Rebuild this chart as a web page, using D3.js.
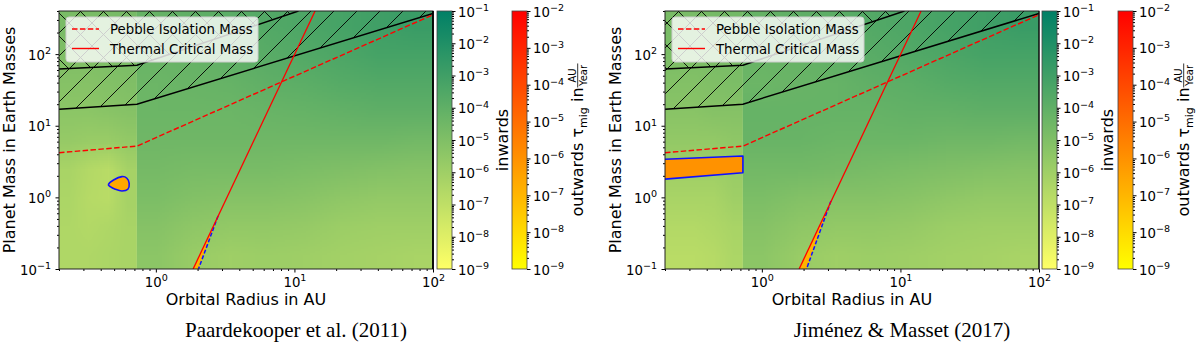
<!DOCTYPE html>
<html>
<head>
<meta charset="utf-8">
<script src="https://cdn.jsdelivr.net/npm/d3@7"></script>
<style>
body { margin: 0; background: #fff; }
svg { display: block; }
text { font-family: "DejaVu Sans", sans-serif; fill: #000; }
</style>
</head>
<body>
<svg id="chart" width="1200" height="347"></svg>
<script>
// curves shared by both panels (orbital radius in AU, planet mass in Earth masses)
const pebbleR = [0.2, 0.73, 100],  pebbleM = [4.2, 5.2, 355];
const thermalR = [1.857, 14.1],    thermalM = [0.1, 400];
const lowerGapR = [0.2, 0.73, 100], lowerGapM = [17, 20, 370];
const upperGapR = [0.2, 0.73, 10.7], upperGapM = [62, 70, 400];

// axis ticks
const radiusTicks = [1, 10, 100];
const massTicks = [0.1, 1, 10, 100];

// heat maps: log10 of inward tau_mig, rows from top (high mass) to bottom
const heatPaardInner = [
    [-4.8, -4.8, -4.8, -4.7],
    [-5.0, -5.0, -4.9, -4.8],
    [-5.2, -5.2, -5.1, -5.0],
    [-5.4, -5.4, -5.3, -5.2],
    [-5.7, -5.8, -5.8, -5.6],
    [-6.3, -6.6, -6.8, -6.2],
    [-6.4, -6.7, -6.8, -6.2],
    [-6.5, -6.6, -6.5, -6.3],
    [-6.5, -6.5, -6.4, -6.3]
];
const heatPaardOuter = [
    [-4.2, -4.0, -3.9, -3.6, -3.4, -3.2, -3.0, -2.8],
    [-4.3, -4.2, -4.0, -3.8, -3.6, -3.4, -3.2, -3.2],
    [-4.4, -4.3, -4.2, -4.0, -3.9, -3.7, -3.6, -3.6],
    [-4.4, -4.4, -4.4, -4.3, -4.2, -4.1, -4.0, -4.0],
    [-4.5, -4.5, -4.5, -4.5, -4.5, -4.5, -4.5, -4.6],
    [-4.7, -4.8, -4.8, -4.8, -4.9, -5.0, -5.1, -5.2],
    [-4.9, -5.1, -5.2, -5.2, -5.3, -5.5, -5.6, -5.6],
    [-5.2, -5.5, -5.6, -5.6, -5.7, -5.9, -6.0, -6.0],
    [-5.4, -5.8, -6.0, -5.9, -6.0, -6.1, -6.2, -6.3]
];
const heatJimInner = [
    [-4.8, -4.8, -4.7, -4.6],
    [-4.9, -4.9, -4.8, -4.8],
    [-5.1, -5.1, -5.0, -4.9],
    [-5.3, -5.3, -5.2, -5.2],
    [-5.6, -5.6, -5.6, -5.5],
    [-6.0, -6.0, -6.0, -5.8],
    [-6.3, -6.3, -6.3, -6.0],
    [-6.6, -6.6, -6.5, -6.3],
    [-6.8, -6.8, -6.7, -6.4]
];
const heatJimOuter = [
    [-4.2, -4.0, -3.9, -3.6, -3.4, -3.2, -3.0, -2.8],
    [-4.3, -4.2, -4.0, -3.8, -3.6, -3.4, -3.2, -3.2],
    [-4.4, -4.3, -4.2, -4.0, -3.9, -3.7, -3.6, -3.6],
    [-4.2, -4.2, -4.2, -4.2, -4.1, -4.1, -4.0, -4.0],
    [-4.3, -4.3, -4.4, -4.4, -4.4, -4.5, -4.5, -4.6],
    [-4.6, -4.6, -4.7, -4.8, -4.9, -5.0, -5.1, -5.2],
    [-4.9, -5.1, -5.2, -5.2, -5.3, -5.5, -5.6, -5.6],
    [-5.2, -5.5, -5.6, -5.6, -5.7, -5.9, -6.0, -6.0],
    [-5.4, -5.8, -6.0, -5.9, -6.0, -6.1, -6.2, -6.3]
];
const innerEdge = [0.2, 0.73], outerEdge = [0.73, 100];

// outward migration regions (log10 tau_mig)
const blobR = [0.455, 0.495, 0.569, 0.618, 0.642, 0.628, 0.569, 0.509, 0.469];
const blobM = [1.52, 1.75, 1.95, 1.85, 1.57, 1.30, 1.23, 1.30, 1.41];
const blobValue = -6.6;
const bandR = [0.2, 0.73, 0.73, 0.2], bandM = [3.4, 3.78, 2.21, 1.8];
const bandValue = -6.0;
const wedgePaardR = [1.857, 2.81, 2.03], wedgePaardM = [0.1, 0.55, 0.1];
const wedgeJimR = [1.85, 3.15, 2.10], wedgeJimM = [0.1, 0.89, 0.1];
const wedgeValue = -6.9;

const captions = ['Paardekooper et al. (2011)', 'Jiménez & Masset (2017)'];

const plotTop = 11, plotBottom = 269;
const panels = [
    {x0: 59, x1: 433, cb1: 437, cb2: 512, capX: 296, spine: 1.8,
     inner: heatPaardInner, outer: heatPaardOuter, wedgeR: wedgePaardR, wedgeM: wedgePaardM, blob: true},
    {x0: 665, x1: 1039, cb1: 1042, cb2: 1118, capX: 902, spine: 1,
     inner: heatJimInner, outer: heatJimOuter, wedgeR: wedgeJimR, wedgeM: wedgeJimM, blob: false}
];

const inColor = d3.scaleSequential(t => d3.rgb(255 * t, 127.5 * (1 + t), 102) + '')
    .domain([-1, -9]).clamp(true);
const outColor = d3.scaleSequential(t => d3.rgb(255, 255 * t, 0) + '')
    .domain([-2, -9]).clamp(true);

const svg = d3.select('#chart');
const defs = svg.append('defs');
const S = 23;
defs.append('pattern').attr('id', 'hatchF').attr('patternUnits', 'userSpaceOnUse')
    .attr('width', S).attr('height', S)
    .append('path')
    .attr('d', `M0,${S}L${S},0M-2,2L2,-2M${S - 2},${S + 2}L${S + 2},${S - 2}`)
    .attr('fill', 'none').attr('stroke', '#000').attr('stroke-width', 0.9);
defs.append('pattern').attr('id', 'hatchB').attr('patternUnits', 'userSpaceOnUse')
    .attr('width', S).attr('height', S)
    .append('path')
    .attr('d', `M0,0L${S},${S}M-2,${S - 2}L2,${S + 2}M${S - 2},-2L${S + 2},2`)
    .attr('fill', 'none').attr('stroke', '#000').attr('stroke-width', 0.9);

const fmtExp = n => n < 0 ? '\u2212' + (-n) : '' + n;
const isMajor = v => Math.abs(Math.log10(v) - Math.round(Math.log10(v))) < 1e-6;

function powLabels(sel, fs) {
    sel.each(function(d) {
        const t = d3.select(this).text(null);
        t.append('tspan').text('10');
        t.append('tspan').attr('dy', -fs * 0.42).attr('font-size', fs * 0.72)
            .text(fmtExp(Math.round(Math.log10(d))));
    });
}

function heatImage(g, grid, edge, x, y) {
    const canvas = document.createElement('canvas');
    canvas.width = grid[0].length;
    canvas.height = grid.length;
    const ctx = canvas.getContext('2d');
    grid.forEach((row, r) => row.forEach((v, c) => {
        ctx.fillStyle = inColor(v);
        ctx.fillRect(c, r, 1, 1);
    }));
    g.append('image')
        .attr('href', canvas.toDataURL())
        .attr('x', x(edge[0])).attr('y', y(400))
        .attr('width', x(edge[1]) - x(edge[0]))
        .attr('height', y(0.1) - y(400))
        .attr('preserveAspectRatio', 'none');
}

function colorbar(left, scale, lo, hi, id, label, outwards) {
    const w = 15;
    const grad = defs.append('linearGradient').attr('id', id)
        .attr('x1', 0).attr('y1', 1).attr('x2', 0).attr('y2', 0);
    d3.range(0, 1.0001, 0.05).forEach(o => {
        grad.append('stop').attr('offset', o).attr('stop-color', scale(lo + (hi - lo) * o));
    });
    svg.append('rect').attr('x', left).attr('y', plotTop).attr('width', w).attr('height', plotBottom - plotTop)
        .attr('fill', `url(#${id})`).attr('stroke', '#444').attr('stroke-width', 0.8);

    const cs = d3.scaleLog().domain([Math.pow(10, lo), Math.pow(10, hi)]).range([plotBottom, plotTop]);
    const minors = cs.ticks().filter(v => !isMajor(v));
    const majors = d3.range(lo, hi + 1).map(e => Math.pow(10, e));
    svg.append('g').attr('transform', `translate(${left + w},0)`)
        .call(d3.axisRight(cs).tickValues(minors).tickSize(2).tickFormat(''))
        .call(g => g.select('.domain').remove());
    const ax = svg.append('g').attr('transform', `translate(${left + w},0)`)
        .call(d3.axisRight(cs).tickValues(majors).tickSize(3.5))
        .attr('font-family', null).attr('font-size', 13.3);
    ax.select('.domain').remove();
    ax.selectAll('text').attr('x', 6).attr('dy', 0).attr('y', 5).call(powLabels, 13.3);

    const lx = left + w + 56, cy = (plotTop + plotBottom) / 2;
    if (!outwards) {
        svg.append('text').attr('transform', `translate(${lx},${cy}) rotate(-90)`)
            .attr('text-anchor', 'middle').attr('font-size', 16).text(label);
        return;
    }
    const g = svg.append('g');
    const t = g.append('text').attr('font-size', 16);
    t.append('tspan').text('outwards \u03c4');
    t.append('tspan').attr('dy', 4).attr('font-size', 11).text('mig');
    t.append('tspan').attr('dy', -4).text(' in ');
    const len = t.node().getComputedTextLength();
    const fw = 24;
    g.append('text').attr('x', len + fw / 2).attr('y', -7).attr('font-size', 10)
        .attr('text-anchor', 'middle').text('AU');
    g.append('line').attr('x1', len).attr('x2', len + fw).attr('y1', -5.3).attr('y2', -5.3)
        .attr('stroke', '#000').attr('stroke-width', 0.8);
    g.append('text').attr('x', len + fw / 2).attr('y', 3.8).attr('font-size', 10)
        .attr('text-anchor', 'middle').text('Year');
    const total = len + fw;
    g.attr('transform', `translate(${lx},${cy + total / 2}) rotate(-90)`);
}

panels.forEach((p, i) => {
    const x = d3.scaleLog().domain([0.2, 100]).range([p.x0, p.x1]);
    const y = d3.scaleLog().domain([0.1, 400]).range([plotBottom, plotTop]);
    const line = d3.line().x(d => x(d[0])).y(d => y(d[1]));
    const pts = (rs, ms) => rs.map((r, k) => [r, ms[k]]);

    defs.append('clipPath').attr('id', 'clip' + i)
        .append('rect').attr('x', p.x0).attr('y', plotTop)
        .attr('width', p.x1 - p.x0).attr('height', plotBottom - plotTop);
    const plot = svg.append('g').attr('clip-path', `url(#clip${i})`);

    // inward migration field
    heatImage(plot, p.inner, innerEdge, x, y);
    heatImage(plot, p.outer, outerEdge, x, y);

    // outward migration regions
    const wedge = pts(p.wedgeR, p.wedgeM);
    plot.append('path').attr('d', line(wedge) + 'Z').attr('fill', outColor(wedgeValue));
    plot.append('path').attr('d', line(wedge.slice(1)))
        .attr('fill', 'none').attr('stroke', '#1010ff').attr('stroke-width', 1.5)
        .attr('stroke-dasharray', '4,2');
    if (p.blob) {
        plot.append('path')
            .attr('d', d3.line().x(d => x(d[0])).y(d => y(d[1])).curve(d3.curveCardinalClosed)(pts(blobR, blobM)))
            .attr('fill', outColor(blobValue)).attr('stroke', '#1010ff').attr('stroke-width', 1.6);
    } else {
        const band = pts(bandR, bandM);
        plot.append('path').attr('d', line(band) + 'Z').attr('fill', outColor(bandValue));
        plot.append('path').attr('d', line(band)).attr('fill', 'none')
            .attr('stroke', '#1010ff').attr('stroke-width', 1.6).attr('stroke-linejoin', 'round');
    }

    // gap opening regions
    const lower = pts(lowerGapR, lowerGapM);
    const upper = pts(upperGapR, upperGapM);
    plot.append('path').attr('d', line(lower.concat([[100, 400], [0.2, 400]])) + 'Z')
        .attr('fill', 'url(#hatchF)');
    plot.append('path').attr('d', line(upper.concat([[0.2, 400]])) + 'Z')
        .attr('fill', 'url(#hatchB)');
    [lower, upper].forEach(c => plot.append('path').attr('d', line(c))
        .attr('fill', 'none').attr('stroke', '#000').attr('stroke-width', 1.5));

    // characteristic masses
    plot.append('path').attr('d', line(pts(pebbleR, pebbleM)))
        .attr('fill', 'none').attr('stroke', 'red').attr('stroke-width', 1.4)
        .attr('stroke-dasharray', '5.5,2.4');
    plot.append('path').attr('d', line(pts(thermalR, thermalM)))
        .attr('fill', 'none').attr('stroke', 'red').attr('stroke-width', 1.3);

    // axes
    const xMinor = x.ticks().filter(v => !isMajor(v));
    const yMinor = y.ticks().filter(v => !isMajor(v));
    svg.append('g').attr('transform', `translate(0,${plotBottom})`)
        .call(d3.axisBottom(x).tickValues(xMinor).tickSize(2).tickFormat(''))
        .call(g => g.select('.domain').remove());
    const xa = svg.append('g').attr('transform', `translate(0,${plotBottom})`)
        .call(d3.axisBottom(x).tickValues(radiusTicks).tickSize(3.5))
        .attr('font-family', null).attr('font-size', 13.3);
    xa.select('.domain').remove();
    xa.selectAll('text').attr('y', 18).attr('dy', 0).call(powLabels, 13.3);

    svg.append('g').attr('transform', `translate(${p.x0},0)`)
        .call(d3.axisLeft(y).tickValues(yMinor).tickSize(2).tickFormat(''))
        .call(g => g.select('.domain').remove());
    const ya = svg.append('g').attr('transform', `translate(${p.x0},0)`)
        .call(d3.axisLeft(y).tickValues(massTicks).tickSize(3.5))
        .attr('font-family', null).attr('font-size', 13.3);
    ya.select('.domain').remove();
    ya.selectAll('text').attr('x', -8).attr('dy', 0).attr('y', 5).call(powLabels, 13.3);

    svg.append('rect').attr('x', p.x0).attr('y', plotTop)
        .attr('width', p.x1 - p.x0).attr('height', plotBottom - plotTop)
        .attr('fill', 'none').attr('stroke', '#222').attr('stroke-width', 1);
    svg.append('line').attr('x1', p.x1).attr('x2', p.x1).attr('y1', plotTop).attr('y2', plotBottom)
        .attr('stroke', '#000').attr('stroke-width', p.spine);

    svg.append('text').attr('x', (p.x0 + p.x1) / 2).attr('y', 305)
        .attr('text-anchor', 'middle').attr('font-size', 16).text('Orbital Radius in AU');
    svg.append('text').attr('transform', `translate(${p.x0 - 44},${(plotTop + plotBottom) / 2}) rotate(-90)`)
        .attr('text-anchor', 'middle').attr('font-size', 16).text('Planet Mass in Earth Masses');

    // legend
    const lg = svg.append('g').attr('transform', `translate(${p.x0 + 7},${plotTop + 6})`);
    lg.append('rect').attr('width', 192).attr('height', 45).attr('rx', 3)
        .attr('fill', 'rgba(255,255,255,0.8)').attr('stroke', '#ccc');
    [['Pebble Isolation Mass', '5.5,2.4'], ['Thermal Critical Mass', null]].forEach((e, k) => {
        const ly = 12 + k * 19.5;
        lg.append('line').attr('x1', 6).attr('x2', 33).attr('y1', ly).attr('y2', ly)
            .attr('stroke', 'red').attr('stroke-width', 1.4).attr('stroke-dasharray', e[1]);
        lg.append('text').attr('x', 44).attr('y', ly + 5).attr('font-size', 13.3).text(e[0]);
    });

    colorbar(p.cb1, inColor, -9, -1, 'cbIn' + i, 'inwards', false);
    colorbar(p.cb2, outColor, -9, -2, 'cbOut' + i, '', true);

    svg.append('text').attr('x', p.capX).attr('y', 337).attr('text-anchor', 'middle')
        .style('font-family', '"Liberation Serif", serif').attr('font-size', 21)
        .text(captions[i]);
});
</script>
</body>
</html>
